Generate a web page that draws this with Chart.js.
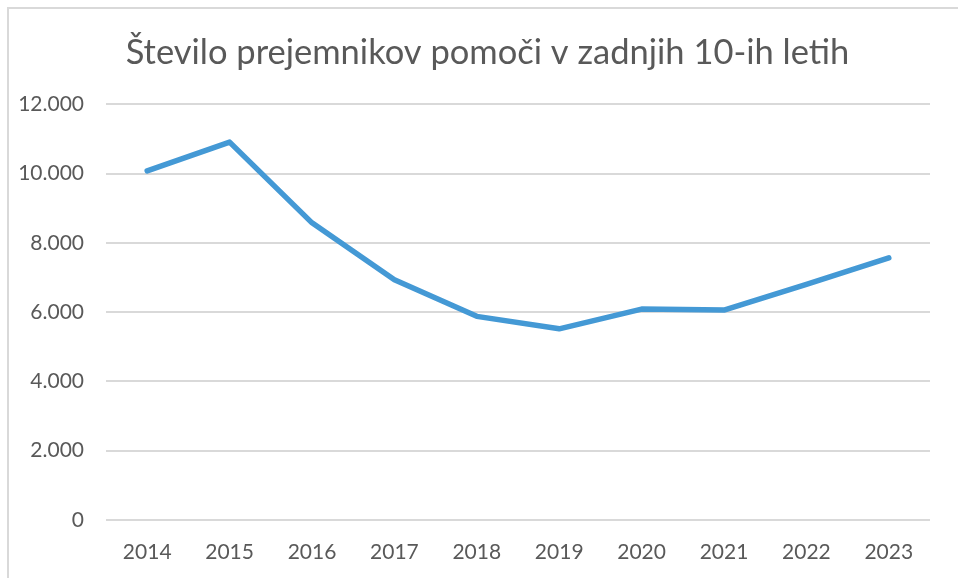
<!DOCTYPE html>
<html>
<head>
<meta charset="utf-8">
<script src="https://cdn.jsdelivr.net/npm/chart.js@4"></script>
<style>
  html, body { margin: 0; padding: 0; background: #fff; }
  #wrap { width: 958px; height: 578px; }
</style>
</head>
<body>
<div id="wrap"><canvas id="lineChart" width="958" height="578"></canvas></div>
<script>
// data
let years = ["2014", "2015", "2016", "2017", "2018", "2019", "2020", "2021", "2022", "2023"];
let recipients = [10080, 10910, 8580, 6940, 5880, 5520, 6090, 6060, 6800, 7570];
let yTicks = [0, 2000, 4000, 6000, 8000, 10000, 12000];
let chartTitle = "Število prejemnikov pomoči v zadnjih 10-ih letih";

let textColor = '#595959';
let gridColor = '#d9d9d9';

// light frame round the chart, like the Excel chart box
let framePlugin = {
    id: 'frame',
    afterLayout: function (chart) {
        // let the y labels use the space left of the padding (labels are clipped to the scale box)
        chart.scales.y.left = 0;
    },
    beforeDraw: function (chart) {
        let c = chart.ctx;
        c.save();
        c.strokeStyle = '#d9d9d9';
        c.lineWidth = 2;
        c.strokeRect(8, 8, 1200, 1200);
        c.restore();
    }
};

let ctxL = document.getElementById("lineChart").getContext('2d');
let myLineChart = new Chart(ctxL, {
    type: 'line',
    data: {
        labels: years,
        datasets: [{
            label: "Prejemniki",
            data: recipients,
            borderColor: '#4499d5',
            backgroundColor: '#4499d5',
            borderWidth: 5.5,
            borderCapStyle: 'round',
            borderJoinStyle: 'round',
            pointRadius: 0,
            tension: 0
        }]
    },
    options: {
        responsive: false,
        animation: false,
        layout: {
            padding: { left: 45, right: 28, top: 0, bottom: 15 }
        },
        plugins: {
            legend: { display: false },
            tooltip: { enabled: false },
            title: {
                display: true,
                text: chartTitle,
                color: textColor,
                font: { family: 'Lato', size: 34.5, weight: 'normal' },
                padding: { top: 32, bottom: 31 }
            }
        },
        scales: {
            x: {
                offset: true,
                afterFit: function (scale) { scale.height = 43; },
                grid: { display: false, drawTicks: false },
                border: { display: false },
                ticks: {
                    color: textColor,
                    font: { family: 'Lato', size: 21 },
                    padding: 20,
                    maxRotation: 0
                }
            },
            y: {
                min: yTicks[0],
                max: yTicks[yTicks.length - 1],
                afterFit: function (scale) { scale.width = 61; },
                afterBuildTicks: function (scale) {
                    scale.ticks = yTicks.map(v => ({ value: v }));
                },
                grid: { color: gridColor, lineWidth: 2, drawTicks: false },
                border: { display: false },
                ticks: {
                    color: textColor,
                    font: { family: 'Lato', size: 21 },
                    padding: 22,
                    callback: function (v) {
                        return String(v).replace(/\B(?=(\d{3})+(?!\d))/g, '.');
                    }
                }
            }
        }
    },
    plugins: [framePlugin]
});
</script>
</body>
</html>
